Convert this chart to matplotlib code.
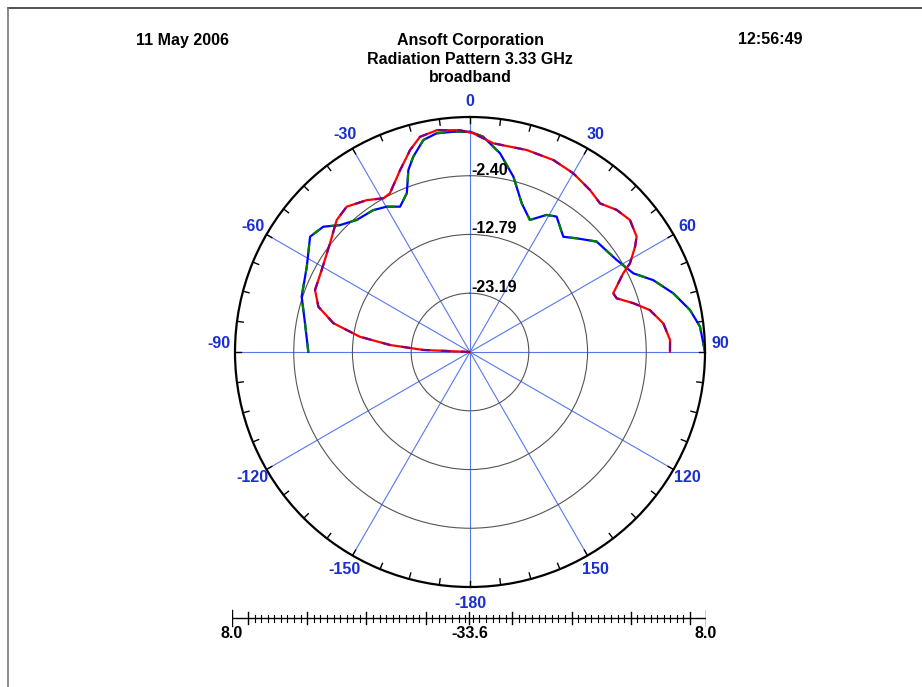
import numpy as np
import matplotlib
matplotlib.use('Agg')
import matplotlib.pyplot as plt

plt.rcParams['font.family'] = ['Liberation Sans', 'DejaVu Sans']

# radial scale (dB)
r_min, r_max = -33.6, 8.0
ring_values = [-23.19, -12.79, -2.40]
ring_labels = ['-23.19', '-12.79', '-2.40']

angle_ticks = [0, 30, 60, 90, 120, 150, 180, 210, 240, 270, 300, 330]
angle_labels = ['0', '30', '60', '90', '120', '150', '-180', '-150', '-120', '-90', '-60', '-30']

# red trace (theta deg, gain dB)
red_theta = [-90, -87.5, -85, -82.1, -78.1, -73.4, -68.2, -61.1, -52.2, -45.3, -40.3,
             -34.2, -29.4, -26.8, -21, -16.5, -13.1, -8.5, -2.6, 0.9, 6.4, 15.7, 23.5,
             30, 36.5, 41.2, 45.9, 50.5, 55.3, 57.5, 61, 62.8, 67.7, 69.9, 73.4, 76.9,
             81.6, 86.6, 90]
red_db = [-33.6, -25.3, -19.4, -13.9, -8.9, -5.6, -4.05, -3.6, -2.23, -0.4, 0.14,
          -1.1, -2.36, -2.14, 0.9, 3.7, 5.5, 6.1, 5.7, 5.1, 3.57, 3.54, 3.45,
          2.94, 2.09, 1.36, 2.55, 3.11, 2.28, 1.04, -1.22, -3.1, -6.2, -5.95, -3.4, -0.9,
          1.0, 1.88, 1.8]

# blue trace (theta deg, gain dB)
blue_theta = [-90, -80.1, -71.8, -62.4, -54.2, -49.5, -45.7, -40.6, -34.3, -29.8, -25.7,
              -21.7, -18.7, -16.2, -12.4, -8.7, -4.3, 0, 3.5, 8.6, 13.9, 19.2, 24.4,
              29.2, 32.6, 39, 43.2, 48.9, 57.9, 64.3, 68.6, 73.9, 79.2, 83.7, 90]
blue_db = [-4.98, -3.95, -2.23, -1.0, 1.3, 0.55, -1.44, -2.8, -3.2, -3.95, -5.05,
           -3.35, 0.42, 2.4, 4.83, 5.56, 5.5, 5.4, 4.58, 1.98, -1.63, -5.74, -7.93,
           -5.8, -5.15, -7.35, -6.0, -3.86, -2.95, -1.5, 1.25, 3.86, 6.05, 7.36, 8.0]

W, H = 922, 687
fig = plt.figure(figsize=(W / 100, H / 100), dpi=100)
fig.patch.set_facecolor('white')
fs = 11.5

# frame lines (top and left)
fig.add_artist(plt.Line2D([8 / W, 1], [1 - 8 / H, 1 - 8 / H], color='#333333', lw=1.2))
fig.add_artist(plt.Line2D([8 / W, 8 / W], [0, 1 - 8 / H], color='#777777', lw=1.2))

# header
fig.text(182 / W, 1 - 40 / H, '11 May 2006', ha='center', va='center', fontsize=fs, fontweight='bold')
fig.text(770 / W, 1 - 40 / H, '12:56:49', ha='center', va='center', fontsize=fs, fontweight='bold')
fig.text(470 / W, 1 - 40 / H, 'Ansoft Corporation', ha='center', va='center', fontsize=fs, fontweight='bold')
fig.text(470 / W, 1 - 59 / H, 'Radiation Pattern 3.33 GHz', ha='center', va='center', fontsize=fs, fontweight='bold')
fig.text(470 / W, 1 - 78 / H, 'broadband', ha='center', va='center', fontsize=fs, fontweight='bold')

cx, cy, R = 470, 352, 235
ax = fig.add_axes([(cx - R) / W, (H - cy - R) / H, 2 * R / W, 2 * R / H], projection='polar')
ax.set_theta_zero_location('N')
ax.set_theta_direction(-1)
ax.set_ylim(r_min, r_max)
ax.set_rgrids(ring_values, labels=[''] * len(ring_values))
ax.set_thetagrids(angle_ticks, labels=[''] * len(angle_ticks))
ax.yaxis.grid(True, color='#555555', lw=0.8)
ax.xaxis.grid(True, color='#5577ee', lw=0.8)
ax.spines['polar'].set_color('black')
ax.spines['polar'].set_linewidth(1.6)
ax.tick_params(length=0)

# outer ring ticks every 7.5 deg
for a in np.arange(0, 360, 7.5):
    t = np.deg2rad(a)
    ax.plot([t, t], [r_max - 1.1, r_max], color='black', lw=1.0, clip_on=False)

# traces
rt = np.deg2rad(red_theta)
bt = np.deg2rad(blue_theta)
kw = dict(lw=1.6, solid_joinstyle='round', solid_capstyle='round')
ax.plot(bt, blue_db, color='#0000ff', **kw)
ax.plot(bt, blue_db, color='#008000', lw=1.6, dashes=(4, 5))
ax.plot(rt, red_db, color='#ff0000', **kw)
ax.plot(rt, red_db, color='#800080', lw=1.6, dashes=(4, 5))

# ring labels
for v, lab in zip(ring_values, ring_labels):
    ax.annotate(lab, xy=(0, v), xytext=(1, 4), textcoords='offset points',
                ha='left', va='center', fontsize=fs, fontweight='bold', color='black')

# angle labels
r_lab = r_min + (r_max - r_min) * 251 / R
for a, lab in zip(angle_ticks, angle_labels):
    aa = a
    if a == 90:
        aa = 88
    elif a == 270:
        aa = 272
    ax.text(np.deg2rad(aa), r_lab, lab, ha='center', va='center', fontsize=fs,
            fontweight='bold', color='#1a2fd0', clip_on=False)

# scale bar below the plot
span = r_max - r_min
bax = fig.add_axes([232 / W, (H - 628) / H, 474 / W, 20 / H])
bax.set_xlim(-span, span)
bax.set_ylim(-1, 1)
bax.axis('off')
bax.plot([-span, span], [0, 0], color='black', lw=1.0)
step = 10.4 / 9
for s in (-1, 1):
    bax.plot([s * span, s * span], [-0.8, 0.8], color='black', lw=1.0)
    for k in range(4):
        m = s * (7.6 + 10.4 * k)
        bax.plot([m, m], [-0.6, 0.6], color='black', lw=1.0)
    d = 7.6 - step
    while d > 0.3:
        bax.plot([s * d, s * d], [-0.35, 0.35], color='black', lw=0.8)
        d -= step
    for k in range(3):
        for j in range(1, 9):
            d = 7.6 + 10.4 * k + j * step
            bax.plot([s * d, s * d], [-0.35, 0.35], color='black', lw=0.8)
bax.plot([0, 0], [-0.6, 0.6], color='black', lw=1.0)

fig.text(232 / W, 1 - 634 / H, '8.0', ha='center', va='center', fontsize=fs, fontweight='bold')
fig.text(470 / W, 1 - 634 / H, '-33.6', ha='center', va='center', fontsize=fs, fontweight='bold')
fig.text(706 / W, 1 - 634 / H, '8.0', ha='center', va='center', fontsize=fs, fontweight='bold')

fig.savefig('out.png', dpi=100)
